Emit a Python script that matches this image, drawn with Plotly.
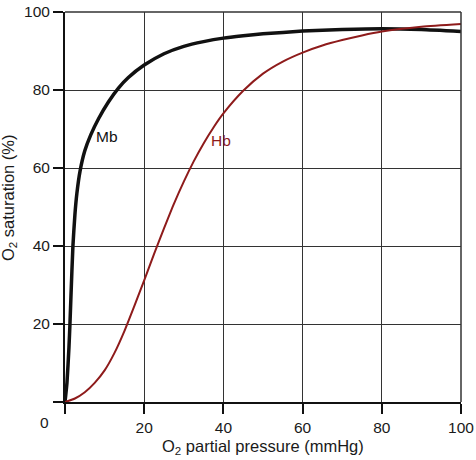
import plotly.graph_objects as go

mb_x = [0, 0.5, 1.0, 1.25, 1.5, 2.0, 2.5, 3.0, 3.8, 5.0, 6.5, 8.5, 11, 13.5, 16, 20, 25, 30, 35, 40, 45, 50, 60, 70, 80, 90, 100]
mb_y = [0, 5, 14, 20, 27, 40, 48, 53.5, 59.2, 64.4, 68.5, 72.7, 77.0, 80.5, 83.2, 86.4, 89.3, 91.2, 92.4, 93.3, 93.9, 94.4, 95.1, 95.5, 95.7, 95.5, 95.0]

hb_x = [0, 2.5, 5, 7.5, 10, 12.5, 15, 17.5, 20, 22.5, 25, 27.5, 30, 32.5, 35, 37.5, 40, 45, 50, 55, 60, 65, 70, 75, 80, 90, 100]
hb_y = [0, 0.9, 2.5, 4.9, 8.1, 12.6, 18.2, 24.6, 31.2, 38.0, 44.5, 50.8, 56.5, 61.7, 66.3, 70.4, 74, 79.8, 84.2, 87.3, 89.6, 91.4, 92.8, 94, 95, 96.2, 96.9]

tick_vals = [0, 20, 40, 60, 80, 100]
tick_text = ["", "20", "40", "60", "80", "100"]

fam = "Liberation Sans, Arial, sans-serif"
font = dict(family=fam, size=15.5, color="#1a1a1a")
title_font = dict(family=fam, size=16.5, color="#1a1a1a")

fig = go.Figure()
fig.add_trace(go.Scatter(x=mb_x, y=mb_y, mode="lines", line=dict(color="#111111", width=3.5, shape="spline", smoothing=0.5), showlegend=False))
fig.add_trace(go.Scatter(x=hb_x, y=hb_y, mode="lines", line=dict(color="#8e1b1b", width=2, shape="spline", smoothing=0.6), showlegend=False))

fig.add_annotation(x=10.7, y=68.2, text="Mb", showarrow=False, font=dict(family=fam, size=15.5, color="#111111"))
fig.add_annotation(x=39.5, y=67, text="Hb", showarrow=False, font=dict(family=fam, size=15.5, color="#8e1b1b"))
fig.add_annotation(x=0, y=0, text="0", showarrow=False, xshift=-21, yshift=-20, font=font)

# axis titles
fig.add_annotation(xref="paper", yref="paper", x=0.5, y=0, yanchor="middle", xanchor="center",
                   yshift=-45, text="O<sub>2</sub> partial pressure (mmHg)", showarrow=False, font=title_font)
fig.add_annotation(xref="paper", yref="paper", x=0, y=0.523, xanchor="center", yanchor="middle",
                   xshift=-56, textangle=-90, text="O<sub>2</sub> saturation (%)", showarrow=False, font=title_font)

# frame on top and right
fig.add_shape(type="line", xref="paper", yref="paper", x0=0, x1=1, y0=1, y1=1, line=dict(color="#333333", width=1.5))
fig.add_shape(type="line", xref="paper", yref="paper", x0=1, x1=1, y0=0, y1=1, line=dict(color="#333333", width=1.5))

axis_common = dict(
    range=[0, 100], tickvals=tick_vals, ticktext=tick_text,
    showgrid=True, gridcolor="#333333", gridwidth=1.2,
    showline=True, linecolor="#111111", linewidth=2,
    ticks="outside", ticklen=10, tickwidth=2, tickcolor="#111111",
    zeroline=False, tickfont=font, automargin=False,
)

fig.update_layout(
    width=476, height=460,
    margin=dict(l=65, r=15, t=12, b=58),
    paper_bgcolor="white", plot_bgcolor="white",
    font=font,
    xaxis=axis_common,
    yaxis=axis_common,
)

fig.write_html("out.html")
